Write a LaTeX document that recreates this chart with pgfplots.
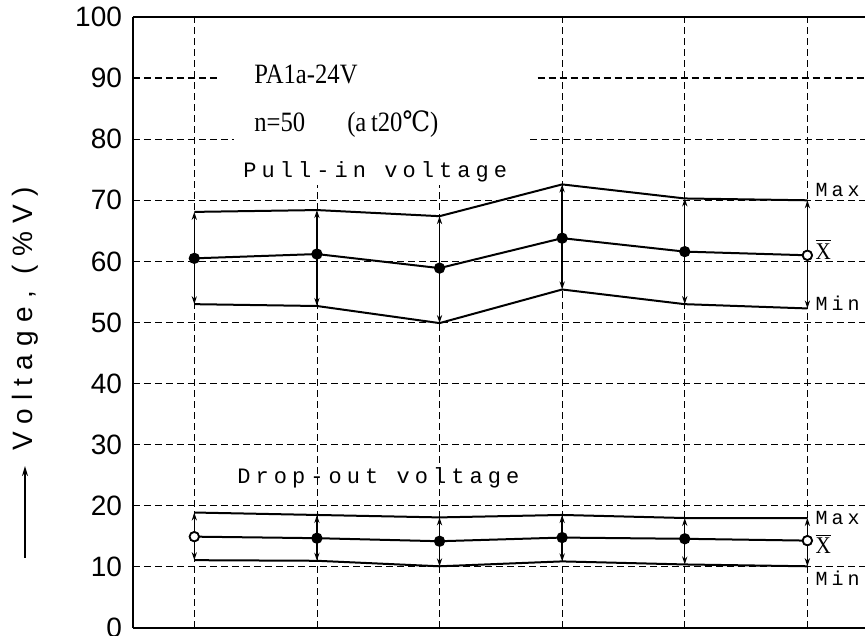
\documentclass[border=0pt]{standalone}
\usepackage{fontspec}
\setmainfont{Liberation Serif}
\usepackage{pgfplots}
\pgfplotsset{compat=1.18}
\usetikzlibrary{arrows.meta}
\newfontfamily\tickfont{Liberation Sans}
\newfontfamily\labfont[LetterSpace=30]{Liberation Sans}
\newfontfamily\spmono[LetterSpace=23]{Liberation Mono}
\newfontfamily\smallmono[LetterSpace=20]{Liberation Mono}
\newfontfamily\cserif[FakeStretch=0.88]{Liberation Serif}
\newfontfamily\symfont[FakeStretch=0.88]{DejaVu Serif}
\newcommand{\xbar}{$\overline{\hbox{X}}$}
\begin{document}
\begin{tikzpicture}[
  grd/.style={line width=0.6pt, dash pattern=on 3.5pt off 2pt},
  rng/.style={line width=0.7pt, {Stealth[length=4pt,width=2.6pt]}-{Stealth[length=4pt,width=2.6pt]}},
  dat/.style={line width=1pt, mark=none},
]
\begin{axis}[
  name=ax,
  scale only axis,
  width=366pt, height=305.5pt,
  xmin=0.5, xmax=6.47, ymin=0, ymax=100,
  axis y line*=left,
  axis line style={line width=1pt},
  xtick=\empty,
  ytick={0,10,...,100},
  major tick length=0pt,
  yticklabel style={font=\tickfont\fontsize{14}{14}\selectfont, xshift=-2pt},
  /pgf/number format/assume math mode=true,
  clip=false,
]
\draw[line width=1pt] (0.5,100) -- (6.47,100);
\draw[line width=1pt] (0.5,0) -- (6.47,0);
% grid
\draw[grd] (0.5,10) -- (6.47,10);
\draw[grd] (0.5,20) -- (6.47,20);
\draw[grd] (0.5,30) -- (6.47,30);
\draw[grd] (0.5,40) -- (6.47,40);
\draw[grd] (0.5,50) -- (6.47,50);
\draw[grd] (0.5,60) -- (6.47,60);
\draw[grd] (0.5,70) -- (6.47,70);
\draw[grd] (0.5,80) -- (1.32,80);
\draw[grd] (3.74,80) -- (6.47,80);
\draw[grd] (0.5,90) -- (1.21,90);
\draw[grd] (3.80,90) -- (6.47,90);
\draw[grd] (1,0) -- (1,100);
\draw[grd] (2.003,0) -- (2.003,72.5);
\draw[grd] (3,0) -- (3,72.5);
\draw[grd] (4,0) -- (4,100);
\draw[grd] (5,0) -- (5,100);
\draw[grd] (6,0) -- (6,100);

% Pull-in voltage
\addplot[dat] coordinates {(1,68.1) (2,68.4) (3,67.4) (4,72.6) (5,70.3) (6,70.0)};
\addplot[dat] coordinates {(1,53.0) (2,52.7) (3,49.9) (4,55.4) (5,53.0) (6,52.3)};
\addplot[rng] coordinates {(1,53.0) (1,68.1)};
\addplot[rng] coordinates {(2,52.7) (2,68.4)};
\addplot[rng] coordinates {(3,49.9) (3,67.4)};
\addplot[rng] coordinates {(4,55.4) (4,72.6)};
\addplot[rng] coordinates {(5,53.0) (5,70.3)};
\addplot[rng] coordinates {(6,52.3) (6,70.0)};
\addplot[dat, mark=*, mark size=2.3pt, mark options={fill=black}] coordinates {(1,60.5) (2,61.2) (3,58.9) (4,63.8) (5,61.6) (6,61.0)};
\addplot[only marks, mark=*, mark size=2.3pt, mark options={fill=white, line width=0.8pt}] coordinates {(6,61.0)};

% Drop-out voltage
\addplot[dat] coordinates {(1,18.9) (2,18.5) (3,18.1) (4,18.5) (5,18.0) (6,18.0)};
\addplot[dat] coordinates {(1,11.1) (2,11.0) (3,10.1) (4,10.9) (5,10.4) (6,10.1)};
\addplot[rng] coordinates {(1,11.1) (1,18.9)};
\addplot[rng] coordinates {(2,11.0) (2,18.5)};
\addplot[rng] coordinates {(3,10.1) (3,18.1)};
\addplot[rng] coordinates {(4,10.9) (4,18.5)};
\addplot[rng] coordinates {(5,10.4) (5,18.0)};
\addplot[rng] coordinates {(6,10.1) (6,18.0)};
\addplot[dat, mark=*, mark size=2.3pt, mark options={fill=black}] coordinates {(1,14.95) (2,14.7) (3,14.2) (4,14.8) (5,14.6) (6,14.3)};
\addplot[only marks, mark=*, mark size=2.3pt, mark options={fill=white, line width=0.8pt}] coordinates {(1,14.95) (6,14.3)};

% annotations
\node[anchor=west, inner sep=0pt, font=\cserif\fontsize{14}{14}\selectfont] at (1.487,90.6) {PA1a-24V};
\node[anchor=west, inner sep=0pt, font=\cserif\fontsize{14}{14}\selectfont] at (1.487,82.4) {n=50\hspace{1.5em}(a\,t20{\symfont ℃})};
\node[anchor=west, inner sep=0pt, font=\spmono\fontsize{11}{11}\selectfont] at (1.397,74.6) {Pull-in voltage};
\node[anchor=west, inner sep=0pt, font=\spmono\fontsize{11}{11}\selectfont] at (1.348,24.5) {Drop-out voltage};

\node[anchor=west, inner sep=0pt, font=\smallmono\fontsize{10}{10}\selectfont] at (6.063,71.7) {Max};
\node[anchor=west, inner sep=0pt, font=\cserif\fontsize{12}{12}\selectfont] at (6.063,62.0) {\xbar};
\node[anchor=west, inner sep=0pt, font=\smallmono\fontsize{10}{10}\selectfont] at (6.063,53.2) {Min};
\node[anchor=west, inner sep=0pt, font=\smallmono\fontsize{10}{10}\selectfont] at (6.063,18.0) {Max};
\node[anchor=west, inner sep=0pt, font=\cserif\fontsize{12}{12}\selectfont] at (6.063,13.8) {\xbar};
\node[anchor=west, inner sep=0pt, font=\smallmono\fontsize{10}{10}\selectfont] at (6.063,8.2) {Min};

% y label with arrow
\draw[line width=0.7pt, -{Stealth[length=5pt,width=3pt]}] ([xshift=-54pt]rel axis cs:0,0.115) -- ([xshift=-54pt]rel axis cs:0,0.265);
\node[rotate=90, anchor=west, inner sep=0pt, font=\labfont\fontsize{14}{14}\selectfont] at ([xshift=-54pt]rel axis cs:0,0.29) {Voltage, (\%V)};
\end{axis}
\pgfresetboundingbox
\path[use as bounding box] ([shift={(-66.5pt,-4pt)}]ax.south west) rectangle ([shift={(0.5pt,8.5pt)}]ax.north east);
\end{tikzpicture}
\end{document}
